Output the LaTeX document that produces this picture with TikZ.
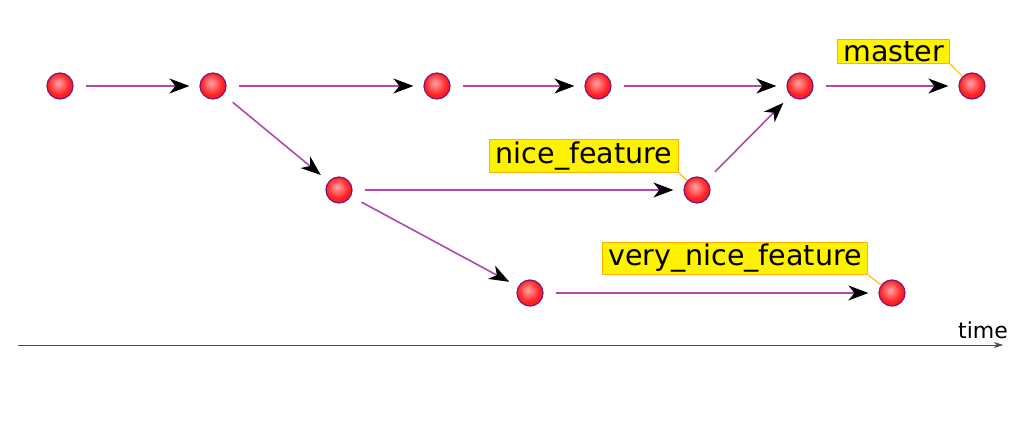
\documentclass[tikz,border=0pt]{standalone}
\usepackage{fontspec}
\setmainfont{DejaVu Sans}
\usetikzlibrary{arrows.meta}
\pgfdeclareradialshading{commitball}{\pgfpoint{-4bp}{6bp}}{color(0bp)=(red!35!white); color(20bp)=(red!85!white); color(42bp)=(red!92!black); color(60bp)=(red!65!black)}
\definecolor{historyline}{RGB}{176,72,176}
\definecolor{commitedge}{RGB}{130,20,120}
\tikzset{
  commit/.style={circle, minimum size=26pt, inner sep=0pt, shading=commitball, draw=commitedge, line width=1.2pt},
  history/.style={draw=historyline, line width=1.6pt, shorten <=12pt, shorten >=10pt,
    -{Stealth[length=20pt, width=15pt, inset=6pt, black]}},
  branchlabel/.style={rectangle, fill=yellow, draw=orange!60!yellow, line width=0.8pt, inner xsep=6pt, inner ysep=2pt, font=\fontsize{28.5}{32}\selectfont},
  branchtie/.style={draw=orange!60!yellow, line width=1pt}
}
\begin{document}
\begin{tikzpicture}[x=1pt, y=-1pt]
		\useasboundingbox (0,0) rectangle (1026,428);
		
		% master line
		\node (c1) [commit] at (60,86) {};
		\node (c2) [commit] at (213,86) {};
		\node (c3) [commit] at (437,86) {};
		\node (c4) [commit] at (598,86) {};
		\node (c5) [commit] at (800,86) {};
		\node (c6) [commit] at (972,86) {};
		
		% feature branches
		\node (f1) [commit] at (339,190) {};
		\node (f2) [commit] at (697,190) {};
		\node (v1) [commit] at (530,293) {};
		\node (v2) [commit] at (892,293) {};
		
		\draw [history] (c1) to (c2);
		\draw [history] (c2) to (c3);
		\draw [history] (c3) to (c4);
		\draw [history] (c4) to (c5);
		\draw [history] (c5) to (c6);
		\draw [history] (c2) to (f1);
		\draw [history] (f1) to (f2);
		\draw [history] (f2) to (c5);
		\draw [history] (f1) to (v1);
		\draw [history] (v1) to (v2);
		
		% branch names
		\node (lmaster) [branchlabel] at (893.5,51.5) {master};
		\draw [branchtie] (lmaster.south east) to (c6);
		\node (lnice) [branchlabel] at (584,156) {nice\_feature};
		\draw [branchtie] (lnice.south east) to (f2);
		\node (lvery) [branchlabel] at (735,258.5) {very\_nice\_feature};
		\draw [branchtie] (lvery.south east) to (v2);
		
		% time axis
		\coordinate (tstart) at (18,345);
		\coordinate (tend) at (1003,345);
		\draw [gray!60!black, line width=0.8pt, -{Stealth[length=9pt, width=6pt]}] (tstart) to (tend);
		\node (ltime) [font=\fontsize{22}{26}\selectfont, inner sep=0pt] at (983,330) {time};
		
		\end{tikzpicture}
\end{document}
